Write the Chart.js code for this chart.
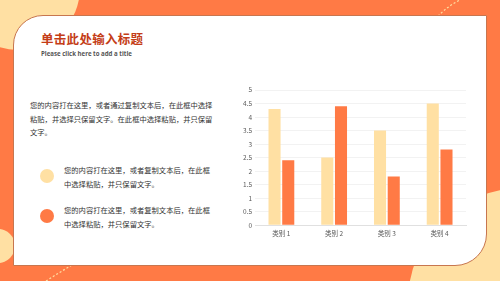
<!DOCTYPE html>
<html>
<head>
<meta charset="utf-8">
<script src="https://cdn.jsdelivr.net/npm/chart.js@4"></script>
<style>
  html, body { margin: 0; padding: 0; }
  body {
    width: 500px; height: 281px; overflow: hidden; position: relative;
    background: #FF7A45;
    font-family: "Noto Sans CJK SC", "Noto Sans", sans-serif;
  }
  #deco { position: absolute; left: 0; top: 0; }
  .card {
    position: absolute; left: 13px; top: 15px; width: 472px; height: 249px;
    background: #fff; border: 1.5px solid #C7764F;
    border-top-left-radius: 30px; border-bottom-right-radius: 32px;
  }
  .title { position: absolute; left: 41px; top: 29px; font-size: 12.5px; font-weight: bold; color: #C43D17; letter-spacing: 0.3px; }
  .sub { position: absolute; left: 41px; top: 48.5px; font-size: 6.1px; font-weight: bold; color: #555; font-family: "Open Sans", sans-serif; }
  .para { position: absolute; left: 30px; top: 99px; width: 186px; font-size: 7.3px; line-height: 13.5px; color: #333; }
  .item { position: absolute; left: 64px; width: 150px; font-size: 7.3px; line-height: 14px; color: #333; }
  .dot { position: absolute; width: 14px; height: 14px; border-radius: 50%; }
  #wrap { position: absolute; left: 236px; top: 83px; width: 240px; height: 158px; }
</style>
</head>
<body>
<svg id="deco" width="500" height="281">
  <circle cx="18" cy="-12" r="62" fill="#FFE0A3"/>
  <circle cx="-2" cy="246" r="17" fill="#FFE0A3"/>
  <circle cx="522" cy="302" r="114" fill="#FFE0A3"/>
  <path d="M438 16 Q448 6 460 0" stroke="#FFE0A3" stroke-width="1.2" fill="none" stroke-dasharray="2 2"/>
  <path d="M46 281 Q60 272 74 264" stroke="#FFE0A3" stroke-width="1.2" fill="none" stroke-dasharray="2 2"/>
</svg>
<div class="card"></div>
<div class="title">单击此处输入标题</div>
<div class="sub">Please click here to add a title</div>
<div class="para">您的内容打在这里，或者通过复制文本后，在此框中选择粘贴，并选择只保留文字。在此框中选择粘贴，并只保留文字。</div>
<div class="dot" style="left:40px;top:169px;background:#FFE0A3"></div>
<div class="item" style="top:163px">您的内容打在这里，或者复制文本后，在此框中选择粘贴，并只保留文字。</div>
<div class="dot" style="left:40px;top:209px;background:#FF7A45"></div>
<div class="item" style="top:203px">您的内容打在这里，或者复制文本后，在此框中选择粘贴，并只保留文字。</div>
<div id="wrap"><canvas id="chart"></canvas></div>
<script>
const categories = ['类别 1', '类别 2', '类别 3', '类别 4'];
const series1 = [4.3, 2.5, 3.5, 4.5];
const series2 = [2.4, 4.4, 1.8, 2.8];

const ctx = document.getElementById('chart').getContext('2d');
new Chart(ctx, {
    type: 'bar',
    data: {
        labels: categories,
        datasets: [
            { label: '系列 1', data: series1, backgroundColor: '#FFE0A3', borderWidth: 0 },
            { label: '系列 2', data: series2, backgroundColor: '#FF7A45', borderWidth: 0 }
        ]
    },
    options: {
        responsive: true,
        maintainAspectRatio: false,
        animation: false,
        layout: { padding: { top: 7, right: 10, left: 4, bottom: 0 } },
        plugins: { legend: { display: false }, tooltip: { enabled: false } },
        datasets: { bar: { categoryPercentage: 0.52, barPercentage: 0.88 } },
        scales: {
            x: {
                grid: { display: false, drawTicks: false },
                border: { color: '#e0e0e0' },
                ticks: { color: '#595959', font: { size: 6.5, family: 'Noto Sans CJK SC' }, padding: 4 }
            },
            y: {
                min: 0, max: 5,
                ticks: {
                    stepSize: 0.5, color: '#595959', padding: 3,
                    font: { size: 6.5, family: 'Noto Sans CJK SC' },
                    callback: v => String(v)
                },
                grid: { color: '#f2f2f2', drawTicks: false },
                border: { display: false }
            }
        }
    }
});
</script>
</body>
</html>
